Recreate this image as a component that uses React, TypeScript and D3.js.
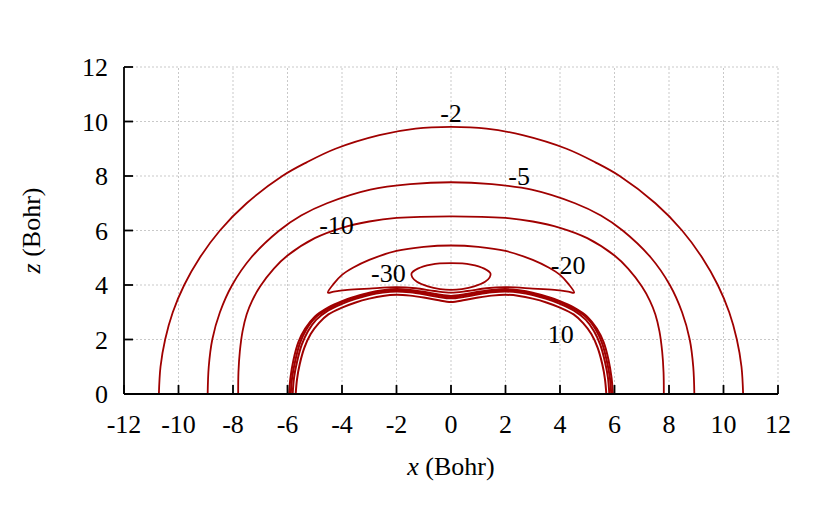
import React from 'react';
import * as d3 from 'd3';

// contour outlines, right half only (x >= 0), in Bohr
const contourMinus2 = [[0, 9.8], [1.3, 9.74], [2.63, 9.5], [4.24, 9.0], [5.3, 8.5], [6.19, 8.0], [7.5, 7.0], [8.48, 6.0], [9.22, 5.0], [9.79, 4.0], [10.21, 3.0], [10.49, 2.0], [10.66, 1.0], [10.72, 0]];
const contourMinus5 = [[0, 7.77], [1.5, 7.7], [2.96, 7.5], [4.55, 7.0], [5.5, 6.55], [6.3, 6.0], [7.34, 5.0], [8.03, 4.0], [8.48, 3.0], [8.76, 2.0], [8.89, 1.0], [8.93, 0]];
const contourMinus10 = [[0, 6.52], [2, 6.46], [3, 6.33], [4, 6.1], [5, 5.72], [6, 5.08], [6.5, 4.6], [7, 3.95], [7.3, 3.42], [7.5, 2.92], [7.65, 2.3], [7.75, 1.55], [7.8, 0.8], [7.81, 0]];
const contourMinus20 = [[0, 5.45], [1, 5.4], [2, 5.25], [3, 4.92], [3.6, 4.63], [4.0, 4.37], [4.3, 4.05], [4.52, 3.72], [4.3, 3.76], [3.8, 3.82], [3.0, 3.87], [2.0, 3.92], [1.3, 3.88], [0.6, 3.78], [0, 3.72]];
const contourMinus30 = [[0, 4.8], [0.73, 4.75], [1.22, 4.6], [1.45, 4.42], [1.42, 4.28], [1.25, 4.12], [0.85, 3.95], [0.4, 3.85], [0, 3.82]];
const contourPosA = [[0, 3.6], [0.5, 3.66], [1, 3.75], [1.5, 3.82], [2, 3.85], [2.5, 3.81], [3, 3.72], [3.5, 3.58], [4, 3.41], [4.5, 3.18], [5, 2.84], [5.35, 2.4], [5.6, 1.9], [5.78, 1.25], [5.89, 0.6], [5.94, 0]];
const contourPosB = [[0, 3.56], [0.5, 3.62], [1, 3.71], [1.5, 3.78], [2, 3.81], [2.5, 3.77], [3, 3.68], [3.5, 3.54], [4, 3.37], [4.5, 3.13], [5, 2.78], [5.32, 2.35], [5.55, 1.85], [5.72, 1.2], [5.83, 0.6], [5.88, 0]];
const contourPosC = [[0, 3.51], [0.5, 3.57], [1, 3.66], [1.5, 3.73], [2, 3.76], [2.5, 3.72], [3, 3.63], [3.5, 3.49], [4, 3.31], [4.5, 3.07], [4.95, 2.72], [5.25, 2.3], [5.48, 1.8], [5.65, 1.18], [5.76, 0.6], [5.81, 0]];
const contourPosD = [[0, 3.38], [0.5, 3.45], [1, 3.54], [1.5, 3.61], [2, 3.64], [2.5, 3.6], [3, 3.5], [3.5, 3.36], [4, 3.17], [4.5, 2.92], [4.85, 2.6], [5.15, 2.2], [5.38, 1.7], [5.55, 1.1], [5.65, 0.55], [5.7, 0]];

const openContours = [contourMinus2, contourMinus5, contourMinus10, contourPosA, contourPosB, contourPosC, contourPosD];
const closedContours = [contourMinus20, contourMinus30];

// contour labels: text, x, z (centre of the text)
const labelText = ['-2', '-5', '-10', '-20', '-30', '10'];
const labelX = [0, 2.5, -4.2, 4.3, -2.3, 4.03];
const labelZ = [10.3, 8.0, 6.22, 4.75, 4.43, 2.2];

const xTicks = [-12, -10, -8, -6, -4, -2, 0, 2, 4, 6, 8, 10, 12];
const zTicks = [0, 2, 4, 6, 8, 10, 12];

const red = '#a00000';
const font = '"Liberation Serif", "Times New Roman", serif';

function mirror(half: number[][]) {
  const left = half.slice(1).reverse().map(([x, z]) => [-x, z]);
  return left.concat(half);
}

function mirrorClosed(half: number[][]) {
  const left = half.slice(1, -1).reverse().map(([x, z]) => [-x, z]);
  return half.concat(left);
}

export default function App() {
  const width = 830;
  const height = 519;
  const x = d3.scaleLinear().domain([-12, 12]).range([124, 778]);
  const z = d3.scaleLinear().domain([0, 12]).range([394, 67]);

  const line = d3.line<number[]>()
    .x(d => x(d[0]))
    .y(d => z(d[1]))
    .curve(d3.curveCatmullRom.alpha(0.5));
  const loop = d3.line<number[]>()
    .x(d => x(d[0]))
    .y(d => z(d[1]))
    .curve(d3.curveCatmullRomClosed.alpha(0.5));

  return (
    <svg width={width} height={height} style={{ position: 'absolute', left: 0, top: 0, background: '#fff' }}>
      {/* grid */}
      <g stroke="#bbb" strokeWidth={0.8} strokeDasharray="2,2">
        {xTicks.filter(t => t > -12).map(t => (
          <line key={'gx' + t} x1={x(t)} x2={x(t)} y1={z(0)} y2={z(12)} />
        ))}
        {zTicks.filter(t => t > 0).map(t => (
          <line key={'gz' + t} x1={x(-12)} x2={x(12)} y1={z(t)} y2={z(t)} />
        ))}
      </g>

      {/* contours */}
      <g fill="none" stroke={red} strokeWidth={1.8}>
        {openContours.map((c, i) => (
          <path key={'o' + i} d={line(mirror(c)) || ''} strokeWidth={i >= 3 ? 2 : 1.8} />
        ))}
        {closedContours.map((c, i) => (
          <path key={'c' + i} d={loop(mirrorClosed(c)) || ''} />
        ))}
      </g>

      {/* axes */}
      <g stroke="#000" strokeWidth={1.8}>
        <line x1={x(-12)} x2={x(-12)} y1={z(0)} y2={z(12)} />
        <line x1={x(-12)} x2={x(12)} y1={z(0)} y2={z(0)} />
        {xTicks.map(t => (
          <line key={'tx' + t} x1={x(t)} x2={x(t)} y1={z(0)} y2={z(0) - 9} />
        ))}
        {zTicks.map(t => (
          <line key={'tz' + t} x1={x(-12)} x2={x(-12) + 9} y1={z(t)} y2={z(t)} />
        ))}
      </g>

      <g fontFamily={font} fontSize={26} fill="#000">
        {xTicks.map(t => (
          <text key={'lx' + t} x={x(t)} y={z(0) + 39} textAnchor="middle">{t}</text>
        ))}
        {zTicks.map(t => (
          <text key={'lz' + t} x={x(-12) - 16} y={z(t)} dy="0.35em" textAnchor="end">{t}</text>
        ))}
        <text x={x(0)} y={475} textAnchor="middle">
          <tspan fontStyle="italic">x</tspan> (Bohr)
        </text>
        <text transform={`translate(40,${z(6)}) rotate(-90)`} textAnchor="middle">
          <tspan fontStyle="italic">z</tspan> (Bohr)
        </text>
        {labelText.map((s, i) => (
          <text key={'cl' + i} x={x(labelX[i])} y={z(labelZ[i])} dy="0.35em" textAnchor="middle">{s}</text>
        ))}
      </g>
    </svg>
  );
}
